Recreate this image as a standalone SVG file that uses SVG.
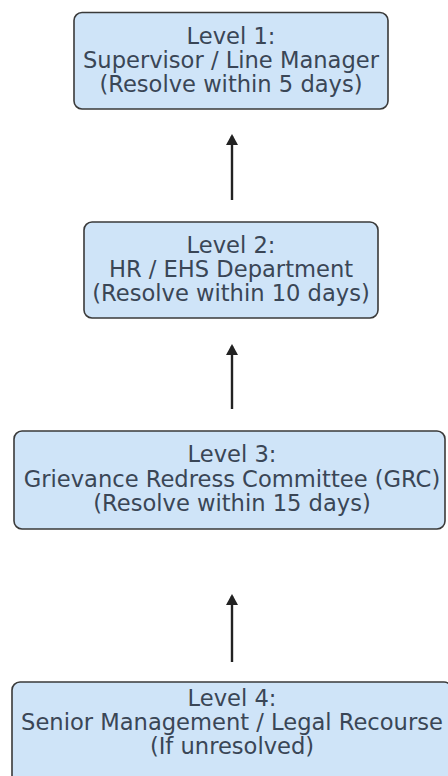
<svg xmlns="http://www.w3.org/2000/svg" width="448" height="776" viewBox="0 0 448 776">
<defs>
<marker id="head" viewBox="0 0 11 12" refX="9" refY="6" markerWidth="11" markerHeight="12" markerUnits="userSpaceOnUse" orient="auto">
<path d="M0,0 L11,6 L0,12 Z" fill="#222"/>
</marker>
</defs>
<style>
.box{fill:#cfe4f8;stroke:#3a3a3a;stroke-width:1.6}
.t{font-family:"DejaVu Sans",sans-serif;font-size:22.6px;fill:#3a4656;text-anchor:middle}
.c{stroke:#222;stroke-width:2.4;fill:none}
</style>
<rect width="448" height="776" fill="#ffffff"/>
<g id="connectors">
<line class="c" x1="232" y1="200" x2="232" y2="136" marker-end="url(#head)"/>
<line class="c" x1="232" y1="409" x2="232" y2="346" marker-end="url(#head)"/>
<line class="c" x1="232" y1="662" x2="232" y2="596" marker-end="url(#head)"/>
</g>
<g id="level1">
<rect class="box" x="74" y="12.5" width="314" height="96.5" rx="8"/>
<text class="t" x="231" y="44">Level 1:</text>
<text class="t" x="231" y="68">Supervisor / Line Manager</text>
<text class="t" x="231" y="92">(Resolve within 5 days)</text>
</g>
<g id="level2">
<rect class="box" x="84" y="222" width="294" height="96" rx="8"/>
<text class="t" x="231" y="253">Level 2:</text>
<text class="t" x="231" y="277">HR / EHS Department</text>
<text class="t" x="231" y="301">(Resolve within 10 days)</text>
</g>
<g id="level3">
<rect class="box" x="14" y="431" width="431" height="98" rx="8"/>
<text class="t" x="232" y="462">Level 3:</text>
<text class="t" x="232" y="487">Grievance Redress Committee (GRC)</text>
<text class="t" x="232" y="511">(Resolve within 15 days)</text>
</g>
<g id="level4">
<rect class="box" x="12" y="682" width="440" height="110" rx="8"/>
<text class="t" x="232" y="706">Level 4:</text>
<text class="t" x="232" y="730">Senior Management / Legal Recourse</text>
<text class="t" x="232" y="754">(If unresolved)</text>
</g>
</svg>
